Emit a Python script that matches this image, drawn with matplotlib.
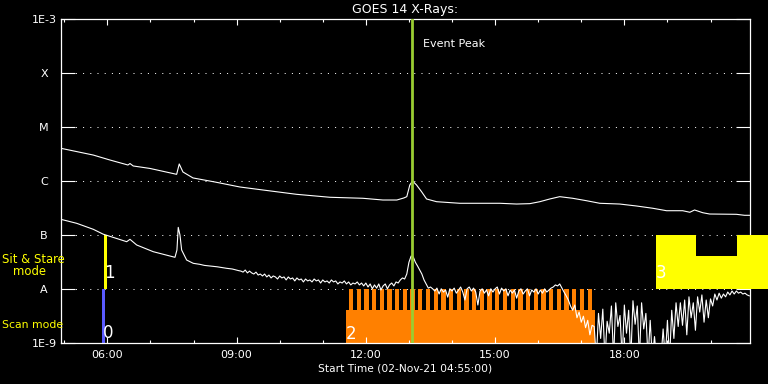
import numpy as np
import matplotlib
matplotlib.use("Agg")
import matplotlib.pyplot as plt

# ---------------- data (time in decimal hours UT, 02-Nov-21; flux in nW/m^2) -------------
T_START = 4 + 55 / 60
T_END = 20 + 55 / 60

# GOES 14 long channel (1-8 A)
long_t = [4.917, 5.673, 6.061, 6.478, 6.525, 6.60, 6.989, 7.608, 7.668, 7.754, 7.987,
          8.497, 9.077, 9.611, 10.393, 11.166, 11.930, 12.395, 12.72, 12.88, 12.95,
          13.02, 13.084, 13.177, 13.293, 13.409, 13.641, 14.182, 15.110, 15.497, 15.806,
          16.038, 16.27, 16.50, 16.80, 17.12, 17.43, 17.89, 18.28, 18.66, 18.98, 19.355,
          19.52, 19.63, 19.82, 19.98, 20.60, 20.79, 20.91]
long_nw = [4050, 3030, 2450, 1980, 2110, 1900, 1710, 1330, 2070, 1470, 1140,
           958, 774, 681, 566, 499, 478, 444, 444, 484, 512,
           843, 1000, 843, 633, 464, 413, 386, 386, 374, 380,
           413, 464, 512, 478, 431, 386, 374, 344, 312, 281, 281,
           263, 290, 258, 244, 241, 231, 231]

# GOES 14 short channel (0.5-4 A), early smooth part
short_t_a = [4.917, 5.288, 5.673, 5.905, 6.448, 6.525, 6.680, 7.065, 7.569, 7.615,
             7.645, 7.685, 7.724, 7.840, 7.993, 8.15, 8.25, 8.381, 8.55, 8.768, 8.9, 9.05]
short_nw_a = [195, 164, 127, 103, 74.8, 82.8, 65.0, 48.8, 38.4, 52.5,
              138, 99.5, 52.5, 34.2, 29.7, 28.4, 27.2, 26.5, 25.6, 24.0, 23.3, 21.7]

# short channel, 3-minute samples from 09:06 onwards
short_t0 = 9.10
short_dt = 0.05
short_nw_b = [
    21.3, 20.4, 22.3, 19.7, 21.3, 19.7, 18.8, 20.4, 18.0, 18.8,
    17.3, 18.8, 16.6, 18.0, 15.9, 17.3, 16.6, 15.2, 17.3, 15.9,
    16.6, 14.6, 16.6, 15.2, 15.9, 14.0, 15.9, 14.6, 15.2, 13.4,
    15.2, 14.0, 14.6, 13.4, 15.2, 14.0, 14.6, 12.8, 14.6, 13.4,
    14.0, 12.8, 14.6, 13.4, 14.0, 12.3, 13.4, 12.8, 14.0, 12.3,
    13.4, 11.8, 12.8, 12.3, 13.4, 11.8, 12.8, 11.3, 12.8, 10.8,
    12.3, 10.0, 11.8, 10.3, 12.3, 9.5, 11.3, 12.3, 10.0, 11.8,
    12.8, 11.3, 13.4, 12.8, 14.6, 15.9, 15.2, 18.8, 31.0, 40.5,
    39.0, 31.0, 26.5, 22.3, 18.8, 14.6, 12.3, 10.3, 10.8, 10.0,
    9.1, 10.3, 8.0, 10.0, 8.7, 9.5, 7.0, 10.0, 9.1, 10.3,
    8.3, 9.5, 10.8, 8.7, 6.2, 10.0, 10.8, 9.1, 10.3, 8.7,
    5.0, 9.1, 10.0, 8.3, 9.5, 7.4, 10.0, 8.7, 10.0, 10.8,
    8.0, 10.3, 9.1, 10.0, 7.4, 9.5, 8.3, 9.5, 6.7, 9.1,
    10.0, 8.0, 9.1, 10.0, 7.4, 9.5, 8.7, 10.0, 8.0, 9.5,
    8.3, 10.0, 8.7, 9.5, 10.3, 10.8, 11.8, 11.3, 12.3, 10.3,
    8.7, 7.4, 6.2, 4.8, 4.0, 5.0, 2.9, 3.7, 2.4, 3.1,
    1.9, 2.6, 1.4, 2.1, 2.0, 0.5, 3.5, 1.2, 4.2, 0.5,
    2.5, 1.5, 4.8, 0.5, 5.5, 2.0, 3.2, 0.5, 5.0, 1.5,
    4.0, 0.5, 6.0, 2.2, 4.8, 0.5, 5.5, 1.8, 3.5, 0.5,
    2.6, 0.5, 1.3, 0.5, 0.5, 0.5, 1.8, 0.5, 2.6, 0.5,
    4.0, 1.2, 5.5, 2.0, 5.5, 2.1, 6.2, 1.4, 7.1, 2.9,
    5.5, 1.7, 7.1, 3.7, 7.7, 2.4, 6.2, 2.9, 6.5, 4.8,
    8.0, 6.2, 8.3, 6.7, 8.0, 7.1, 8.7, 7.7, 9.1, 8.0,
    9.1, 8.3, 8.7, 8.0, 8.3, 7.7, 7.4,
]

EVENT_T = 13.06            # event peak time

# observing modes
MODE0_T = 5.905            # scan mode marker (blue)
MODE1_T = 5.956            # sit & stare marker (yellow)
SCAN_START, SCAN_END = 11.536, 17.33
SCAN_TOOTH_START, SCAN_TOOTH_PERIOD, SCAN_TOOTH_N, SCAN_TOOTH_W = 11.606, 0.1787, 32, 0.0998
SS_SEGMENTS = [(18.729, 19.673, 1e-7), (19.673, 20.624, 4e-8), (20.624, 21.33, 1e-7)]

YTICKS = [1e-9, 1e-8, 1e-7, 1e-6, 1e-5, 1e-4, 1e-3]
YLABELS = ['1E-9', 'A', 'B', 'C', 'M', 'X', '1E-3']
XTICKS = [6, 9, 12, 15, 18]
XLABELS = ['06:00', '09:00', '12:00', '15:00', '18:00']

# ---------------- figure -------------------------------------------------------------
W, H = 768, 384
fig = plt.figure(figsize=(W / 100, H / 100), dpi=100, facecolor='black')
ax = fig.add_axes([60.7 / W, 1 - 342.7 / H, (750 - 60.7) / W, (342.7 - 19.3) / H])
ax.set_facecolor('black')
ax.set_yscale('log')
ax.set_xlim(T_START, T_END)
ax.set_ylim(1e-9, 1e-3)

ORANGE = '#ff8000'
YELLOW = '#ffff00'
BLUE = '#5a5aff'
GREEN = '#9acd32'

# dotted grid lines
for v in YTICKS[1:-1]:
    ax.axhline(v, color='white', lw=0.72, linestyle=(0, (1.0, 6.2)), zorder=0.5)

# scan mode (orange)
ax.bar(SCAN_START, 4e-9 - 1e-9, width=SCAN_END - SCAN_START, bottom=1e-9,
       align='edge', color=ORANGE, linewidth=0, zorder=1)
tooth_t = SCAN_TOOTH_START + SCAN_TOOTH_PERIOD * np.arange(SCAN_TOOTH_N)
ax.bar(tooth_t, 1e-8 - 4e-9, width=SCAN_TOOTH_W, bottom=4e-9, align='edge',
       color=ORANGE, linewidth=0, zorder=1)

# sit & stare block (yellow), runs past the right edge
for t0, t1, top in SS_SEGMENTS:
    ax.bar(t0, top - 1e-8, width=t1 - t0, bottom=1e-8, align='edge', color=YELLOW,
           linewidth=0, zorder=4, clip_on=False)

# mode markers
ax.bar(MODE0_T, 1e-8 - 1e-9, width=0.077, bottom=1e-9, align='center', color=BLUE,
       linewidth=0, zorder=1)
ax.bar(MODE1_T, 1e-7 - 1e-8, width=0.056, bottom=1e-8, align='center', color=YELLOW,
       linewidth=0, zorder=1)

# light curves
ax.plot(long_t, np.array(long_nw) * 1e-9, color='white', lw=0.8, zorder=2)
short_t_b = short_t0 + short_dt * np.arange(len(short_nw_b))
short_t = np.concatenate([short_t_a, short_t_b])
short_v = np.concatenate([short_nw_a, short_nw_b]) * 1e-9
ax.plot(short_t, short_v, color='white', lw=0.8, zorder=2)

# event peak
ax.axvline(EVENT_T, color=GREEN, lw=2.0, zorder=3)
ax.annotate('Event Peak', xy=(EVENT_T, 1), xycoords=('data', 'axes fraction'),
            xytext=(8.0, -20.0), textcoords='offset points', color='white',
            fontsize=8, va='baseline', ha='left')

# mode numbers
num_kw = dict(color='white', fontsize=12, va='baseline', ha='left', zorder=5)
ax.text(MODE0_T - 0.02, 1.22e-9, '0', **num_kw)
ax.text(MODE1_T - 0.02, 1.6e-8, '1', **num_kw)
ax.text(SCAN_START, 1.17e-9, '2', **num_kw)
ax.text(SS_SEGMENTS[0][0], 1.6e-8, '3', **num_kw)

# axes styling
for s in ax.spines.values():
    s.set_color('white')
    s.set_linewidth(0.9)
ax.set_xticks(XTICKS)
ax.set_xticklabels(XLABELS)
ax.set_xticks(np.arange(5, 21), minor=True)
ax.tick_params(axis='x', which='major', direction='in', length=4.6, width=0.8,
               colors='white', top=True, labelsize=8, pad=5.5)
ax.tick_params(axis='x', which='minor', direction='in', length=2.3, width=0.8,
               colors='white', top=True)
ax.set_yticks(YTICKS)
ax.set_yticklabels(YLABELS)
ax.yaxis.set_minor_locator(matplotlib.ticker.NullLocator())
ax.tick_params(axis='y', which='major', direction='in', length=10, width=0.8,
               colors='white', right=True, labelsize=8, pad=12)
for lab in ax.get_yticklabels():
    lab.set_horizontalalignment('center')

def fx(x):
    return x / W

def fy(y):
    return 1 - y / H

fig.text(fx(405.3), fy(13.4), 'GOES 14 X-Rays:', color='white', fontsize=9,
         ha='center', va='baseline')
fig.text(fx(405.3), fy(371.7), 'Start Time (02-Nov-21 04:55:00)', color='white',
         fontsize=7.7, ha='center', va='baseline')
fig.text(fx(1.7), fy(263), 'Sit & Stare', color=YELLOW, fontsize=8.4, ha='left', va='baseline')
fig.text(fx(12.7), fy(275), 'mode', color=YELLOW, fontsize=8.4, ha='left', va='baseline')
fig.text(fx(1.7), fy(328), 'Scan mode', color=YELLOW, fontsize=7.8, ha='left', va='baseline')

fig.savefig('out.png', dpi=100, facecolor='black')
